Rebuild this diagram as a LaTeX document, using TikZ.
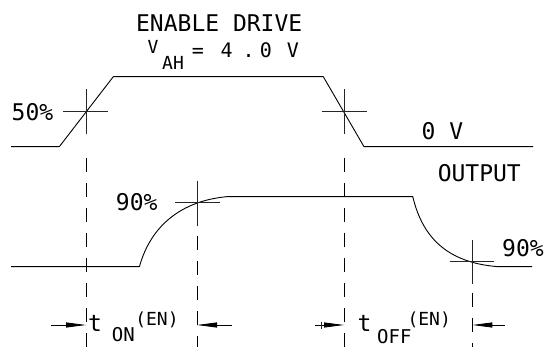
\documentclass[tikz,border=0pt]{standalone}
\usepackage{fontspec}
\newfontfamily\lblfont{DejaVu Sans Mono}
\usetikzlibrary{arrows.meta}
\tikzset{
  wave/.style={line width=0.9pt, black, line join=round},
  tick/.style={line width=0.8pt, black!85},
  guide/.style={line width=0.8pt, black, dash pattern=on 14pt off 11pt},
  dimarrow/.style={line width=0.8pt, black, -{Triangle[length=20pt,width=5pt]}},
  lbl/.style={inner sep=0pt, anchor=base, font=\lblfont\fontsize{23}{23}\selectfont},
  lblsub/.style={inner sep=0pt, anchor=base, font=\lblfont\fontsize{19}{19}\selectfont},
  lblsup/.style={inner sep=0pt, anchor=base, font=\lblfont\fontsize{18}{18}\selectfont},
}
\begin{document}
\begin{tikzpicture}[x=1pt,y=-1pt]
\path[fill=white, use as bounding box] (0,0) rectangle (546,347);

% ---- enable drive waveform ----
\coordinate (e0) at (11,146.7);
\coordinate (e1) at (59.3,146.7);
\coordinate (e2) at (113.3,76.7);
\coordinate (e3) at (323.3,76.7);
\coordinate (e4) at (364,146.7);
\coordinate (e5) at (533,146.7);
\draw[wave] (e0) -- (e1) -- (e2) -- (e3) -- (e4) -- (e5);

% 50% crosses
\draw[tick] (63.3,111.7) -- (108.3,111.7);
\draw[tick] (86,89.3) -- (86,134);
\draw[tick] (321.7,111.7) -- (366.7,111.7);
\draw[tick] (344,89.3) -- (344,134);

% ---- output waveform ----
\coordinate (o0) at (11,266.7);
\coordinate (o1) at (139.4,266.7);
\coordinate (o2) at (226.5,196.7);
\coordinate (o3) at (412.8,196.7);
\coordinate (o4) at (498.3,266.7);
\coordinate (o5) at (532,266.7);
\draw[wave] (o0) -- (o1)
  .. controls (151,225) and (182,201) .. (o2)
  -- (o3)
  .. controls (423,240) and (450,263) .. (o4) -- (o5);

% 90% crosses
\draw[tick] (175,202.5) -- (220,202.5);
\draw[tick] (197,181) -- (197,226);
\draw[tick] (450,261.7) -- (494,261.7);
\draw[tick] (472.3,240) -- (472.3,284);

% ---- guide lines ----
\coordinate (g1t) at (86,158);   \coordinate (g1b) at (86,347);
\coordinate (g2t) at (344,158);  \coordinate (g2b) at (344,347);
\coordinate (g3t) at (197,236);  \coordinate (g3b) at (197,347);
\coordinate (g4t) at (472.3,293);\coordinate (g4b) at (472.3,347);
\draw[guide] (g1t) -- (g1b);
\draw[guide] (g2t) -- (g2b);
\draw[guide] (g3t) -- (g3b);
\draw[guide] (g4t) -- (g4b);

% ---- dimension arrows ----
\coordinate (a1s) at (50.7,325);  \coordinate (a1e) at (86,325);
\coordinate (a2s) at (231.7,325); \coordinate (a2e) at (197,325);
\coordinate (a3s) at (315,325);   \coordinate (a3e) at (344,325);
\coordinate (a4s) at (505,325);   \coordinate (a4e) at (472.3,325);
\draw[dimarrow] (a1s) -- (a1e);
\draw[dimarrow] (a2s) -- (a2e);
\draw[dimarrow] (a3s) -- (a3e);
\draw[dimarrow] (a4s) -- (a4e);
\draw[tick] (321.7,321.5) -- (321.7,328.5);

% ---- labels ----
\node[lbl] (title) at (219.2,31.1) {ENABLE DRIVE};
\node[inner sep=0pt, anchor=base, font=\lblfont\fontsize{18}{18}\selectfont] (vv) at (153,54) {V};
\node[lblsup] (vah) at (173,69.3) {AH};
\node[inner sep=0pt, anchor=base, font=\lblfont\fontsize{20}{20}\selectfont] (veq) at (198,57.3) {=};
\node[inner sep=0pt, anchor=base west, font=\lblfont\fontsize{20}{20}\selectfont] (vval) at (220.5,57.3) {4\kern10pt.\kern5pt0 \kern3pt V};
\node[lbl] (p50) at (32.5,120.1) {50\%};
\node[lbl] (zv) at (442.5,139.1) {0 V};
\node[lbl] (out) at (479.3,181.7) {OUTPUT};
\node[lbl] (p90a) at (136.7,210.7) {90\%};
\node[lbl] (p90b) at (523,256.7) {90\%};

\node[lbl] (ton) at (95,331) {t};
\node[lblsub] (tonsub) at (123.3,341.7) {ON};
\node[lblsup] (tonsup) at (157,325.5) {(EN)};
\node[lbl] (toff) at (364.5,331) {t};
\node[lblsub] (toffsub) at (394.3,343) {OFF};
\node[lblsup] (toffsup) at (429.2,325.5) {(EN)};
\end{tikzpicture}
\end{document}
